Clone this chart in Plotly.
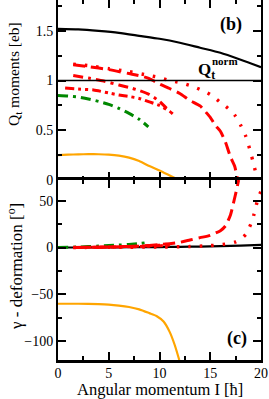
import plotly.graph_objects as go
from plotly.subplots import make_subplots

# ---------------- data ----------------
# black (Qt norm)
I_black = [0, 2, 4, 6, 8, 10, 12, 14, 16, 18, 20]
Q_black = [1.52, 1.515, 1.50, 1.48, 1.45, 1.42, 1.38, 1.33, 1.28, 1.21, 1.135]
g_black = [0, 0, 0.1, 0.2, 0.3, 0.5, 0.7, 1.0, 1.4, 2.0, 2.8]

# orange
I_orange = [0, 1, 2, 3, 4, 5, 6, 7, 8, 9, 10, 11, 11.9]
Q_orange = [0.25, 0.255, 0.258, 0.26, 0.259, 0.255, 0.245, 0.225, 0.19, 0.14, 0.095, 0.045, 0.0]
Ig_orange = [0, 2, 4, 5, 6, 7, 8, 9, 9.7, 10.4, 11, 11.5, 11.95]
g_orange = [-60, -60, -60.5, -61, -62, -63.5, -66, -70, -73, -79, -90, -104, -120]

# green dash-dot
I_green = [0, 1, 2, 3, 4, 5, 6, 7, 8, 8.9]
Q_green = [0.85, 0.845, 0.835, 0.815, 0.79, 0.76, 0.72, 0.67, 0.61, 0.535]
Ig_green = [0, 2, 4, 6, 8, 8.9]
g_green = [0, 0.5, 1.5, 2.6, 4.2, 5.5]

# red dotted
I_rdot = [1.5, 3, 5, 7, 9, 10, 11, 12, 13, 14, 15, 16, 17, 17.5, 18, 18.5, 19, 19.2, 19.5, 19.8]
Q_rdot = [1.165, 1.15, 1.12, 1.09, 1.05, 1.03, 1.0, 0.98, 0.95, 0.91, 0.86, 0.78, 0.70, 0.64, 0.55, 0.44, 0.27, 0.19, 0.07, 0.0]
Ig_rdot = [1.5, 5, 10, 13, 15, 16, 17, 17.5, 18, 18.5, 19, 19.3, 19.6, 19.8, 20]
g_rdot = [0, 0.2, 0.5, 1, 2, 3, 4.5, 6, 9, 14, 25, 35, 48, 55, 60]

# red dashed
I_rdash = [1.5, 3, 5, 7, 8, 9, 10, 11, 12, 13, 14, 14.5, 15, 15.5, 16, 16.5, 17, 17.4, 17.7]
Q_rdash = [1.16, 1.14, 1.11, 1.07, 1.05, 1.02, 0.965, 0.92, 0.87, 0.80, 0.745, 0.69, 0.63, 0.55, 0.49, 0.38, 0.23, 0.14, 0.0]
Ig_rdash = [1.5, 5, 8, 10, 12, 13, 14, 15, 16, 16.5, 17, 17.3, 17.6, 17.8]
g_rdash = [0, 0.5, 1.5, 3, 5.5, 8, 10.5, 13, 18, 23, 35, 48, 62, 72]

# red dash-dot (upper)
I_rA = [1.5, 3, 4.5, 6, 7, 8, 9, 10, 10.7]
Q_rA = [1.05, 1.025, 0.995, 0.955, 0.93, 0.90, 0.86, 0.79, 0.72]
Ig_rA = [1.5, 5, 8, 10, 10.7]
g_rA = [0, 0.5, 1.5, 2.5, 3.5]

# red dash-dot-dot (lower)
I_rB = [0.7, 2, 3.5, 5, 6, 7, 8, 9, 10, 11, 11.3]
Q_rB = [0.925, 0.915, 0.905, 0.875, 0.855, 0.84, 0.82, 0.785, 0.75, 0.69, 0.665]
Ig_rB = [1.5, 4, 8, 10, 11.3]
g_rB = [0, 0.3, 1, 2, 3]

QNORM_REF = 1.0

x_ticks = [0, 5, 10, 15, 20]
q_ticks = [0, 0.5, 1, 1.5]
q_ticktext = ["0", "0.5", "1", "1.5"]
g_ticks = [-100, -50, 0, 50]

FONT = "Liberation Serif"
RED = "#ff0000"
GREEN = "#008800"
ORANGE = "#ffa500"

fig = make_subplots(rows=2, cols=1, shared_xaxes=True, vertical_spacing=0)

def add(x, y, row, color, width, dash):
    fig.add_trace(go.Scatter(x=x, y=y, mode="lines", line=dict(color=color, width=width, dash=dash, shape="spline", smoothing=0.6),
                             showlegend=False, hoverinfo="skip"), row=row, col=1)

# top panel
add(I_black, Q_black, 1, "black", 2.2, "solid")
add(I_orange, Q_orange, 1, ORANGE, 2.2, "solid")
add(I_green, Q_green, 1, GREEN, 3, "10px,5px,3px,5px")
add(I_rA, Q_rA, 1, RED, 3, "10px,5px,3px,5px")
add(I_rB, Q_rB, 1, RED, 3, "9px,4px,3px,4px,3px,4px")
add(I_rdash, Q_rdash, 1, RED, 3, "12px,6px")
add(I_rdot, Q_rdot, 1, RED, 3.4, "2.5px,9px")

# bottom panel
add(I_black, g_black, 2, "black", 2.2, "solid")
add(Ig_orange, g_orange, 2, ORANGE, 2.2, "solid")
add(Ig_green, g_green, 2, GREEN, 3, "10px,5px,3px,5px")
add(Ig_rA, g_rA, 2, RED, 3, "10px,5px,3px,5px")
add(Ig_rB, g_rB, 2, RED, 3, "9px,4px,3px,4px,3px,4px")
add(Ig_rdash, g_rdash, 2, RED, 3, "12px,6px")
add(Ig_rdot, g_rdot, 2, RED, 3.4, "2.5px,9px")

fig.add_hline(y=QNORM_REF, line=dict(color="black", width=1.6), row=1, col=1)

tickfont = dict(family=FONT, size=14, color="black")
minor_common = dict(ticks="inside", ticklen=4, tickwidth=2, tickcolor="black")

fig.update_xaxes(range=[0, 20], tickvals=x_ticks, ticks="inside", ticklen=8, tickwidth=2, tickcolor="black",
                 mirror="ticks", showgrid=False, zeroline=False, tickfont=tickfont, automargin=False,
                 minor=dict(dtick=2.5, **minor_common))
fig.update_xaxes(showline=False, row=1, col=1)
fig.update_xaxes(showline=True, linecolor="black", linewidth=2.5, ticklabelstandoff=-2, row=2, col=1)

fig.update_yaxes(showline=True, linecolor="black", linewidth=2, mirror="ticks", ticks="inside", ticklen=8,
                 tickwidth=2, tickcolor="black", showgrid=False, zeroline=False, tickfont=tickfont,
                 automargin=False)
fig.update_yaxes(range=[0, 1.81], tickvals=q_ticks, ticktext=q_ticktext,
                 minor=dict(dtick=0.25, tick0=0, **minor_common), row=1, col=1)
fig.update_yaxes(range=[-120, 72], tickvals=g_ticks,
                 minor=dict(dtick=25, tick0=0, **minor_common), row=2, col=1)

W, H = 269, 399
L, R, T, B = 58, 8, 0, 39
pw, ph = W - L - R, H - T - B

def px(xp):
    return (xp - L) / pw

def py(yp):
    return 1 - (yp - T) / ph

ann = []
def text(s, xp, yp, size, bold=False, angle=0):
    ann.append(dict(text=(f"<b>{s}</b>" if bold else s), x=px(xp), y=py(yp), xref="paper", yref="paper",
                    showarrow=False, xanchor="center", yanchor="middle", textangle=angle,
                    font=dict(family=FONT, size=size, color="black")))

text("(b)", 231, 25, 18, bold=True)
text("(c)", 237, 338, 18, bold=True)
text("Q<sub>t</sub>", 206, 71, 17, bold=True)
text("norm", 225, 61, 11, bold=True)
text("Angular momentum I [ħ]", 160, 389, 16.5)
text("Q<sub>t</sub> moments [eb]", 15, 74, 15.5, angle=-90)
text("γ - deformation [<sup>o</sup>]", 15, 267, 17, angle=-90)

fig.update_layout(width=W, height=H, margin=dict(l=L, r=R, t=T, b=B, autoexpand=False), paper_bgcolor="white",
                  plot_bgcolor="white", annotations=ann, font=dict(family=FONT))

fig.write_html("out.html", config={"displayModeBar": False},
               post_script="document.body.style.margin='0px';document.body.style.padding='0px';")
